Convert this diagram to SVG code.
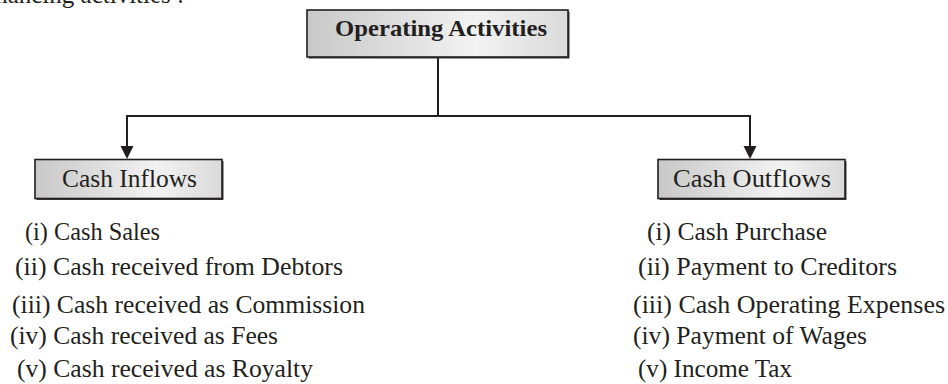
<svg xmlns="http://www.w3.org/2000/svg" width="948" height="384" viewBox="0 0 948 384">
  <style>
    .txt { font-family: "Liberation Serif", "Times New Roman", serif; font-size: 25px; fill: #231f20; }
    .title { font-weight: bold; font-size: 23.5px; }
    .box { fill: url(#boxFill); stroke: #231f20; stroke-width: 1.6; }
    .shadow { fill: #3a3a3a; }
    .wire { fill: none; stroke: #231f20; stroke-width: 2; }
  </style>
  <defs>
    <linearGradient id="boxFill" x1="0" y1="0" x2="1" y2="0">
      <stop offset="0" stop-color="#c8c8c8"/>
      <stop offset="0.65" stop-color="#f2f2f2"/>
      <stop offset="1" stop-color="#dadada"/>
    </linearGradient>
    <marker id="arrow" markerUnits="userSpaceOnUse" markerWidth="14" markerHeight="14" refX="1" refY="6.5" orient="auto">
      <path d="M0,0 L13,6.5 L0,13 z" fill="#231f20"/>
    </marker>
  </defs>

  <!-- running text above the chart, cut by the top edge -->
  <text class="txt" x="184" y="3" text-anchor="end">financing activities :</text>

  <!-- connectors -->
  <g id="connectors">
    <path class="wire" d="M438 57 V116"/>
    <path class="wire" d="M439 116 H127 V147" marker-end="url(#arrow)"/>
    <path class="wire" d="M437 116 H750 V147" marker-end="url(#arrow)"/>
  </g>

  <!-- root node -->
  <g id="operating-activities">
    <rect class="shadow" x="308.5" y="11.5" width="261" height="47"/>
    <rect class="box" x="307" y="10" width="261" height="47"/>
    <text class="txt title" x="335" y="36" textLength="212" lengthAdjust="spacingAndGlyphs">Operating Activities</text>
  </g>

  <!-- left branch -->
  <g id="cash-inflows">
    <rect class="shadow" x="36.5" y="161" width="187" height="39"/>
    <rect class="box" x="35" y="159.5" width="187" height="39"/>
    <text class="txt" x="62" y="187" textLength="135" lengthAdjust="spacingAndGlyphs">Cash Inflows</text>
  </g>

  <!-- right branch -->
  <g id="cash-outflows">
    <rect class="shadow" x="659.5" y="161" width="187" height="39"/>
    <rect class="box" x="658" y="159.5" width="187" height="39"/>
    <text class="txt" x="673" y="187" textLength="158" lengthAdjust="spacingAndGlyphs">Cash Outflows</text>
  </g>

  <!-- inflow items -->
  <g id="inflow-list">
    <text class="txt" x="25" y="240" textLength="135" lengthAdjust="spacingAndGlyphs">(i) Cash Sales</text>
    <text class="txt" x="15" y="275" textLength="328" lengthAdjust="spacingAndGlyphs">(ii) Cash received from Debtors</text>
    <text class="txt" x="12" y="313" textLength="353" lengthAdjust="spacingAndGlyphs">(iii) Cash received as Commission</text>
    <text class="txt" x="10" y="344" textLength="268" lengthAdjust="spacingAndGlyphs">(iv) Cash received as Fees</text>
    <text class="txt" x="17" y="377" textLength="296" lengthAdjust="spacingAndGlyphs">(v) Cash received as Royalty</text>
  </g>

  <!-- outflow items -->
  <g id="outflow-list">
    <text class="txt" x="647" y="240" textLength="180" lengthAdjust="spacingAndGlyphs">(i) Cash Purchase</text>
    <text class="txt" x="638" y="275" textLength="259" lengthAdjust="spacingAndGlyphs">(ii) Payment to Creditors</text>
    <text class="txt" x="633" y="313" textLength="312" lengthAdjust="spacingAndGlyphs">(iii) Cash Operating Expenses</text>
    <text class="txt" x="633" y="344" textLength="234" lengthAdjust="spacingAndGlyphs">(iv) Payment of Wages</text>
    <text class="txt" x="638" y="377" textLength="154" lengthAdjust="spacingAndGlyphs">(v) Income Tax</text>
  </g>
</svg>
